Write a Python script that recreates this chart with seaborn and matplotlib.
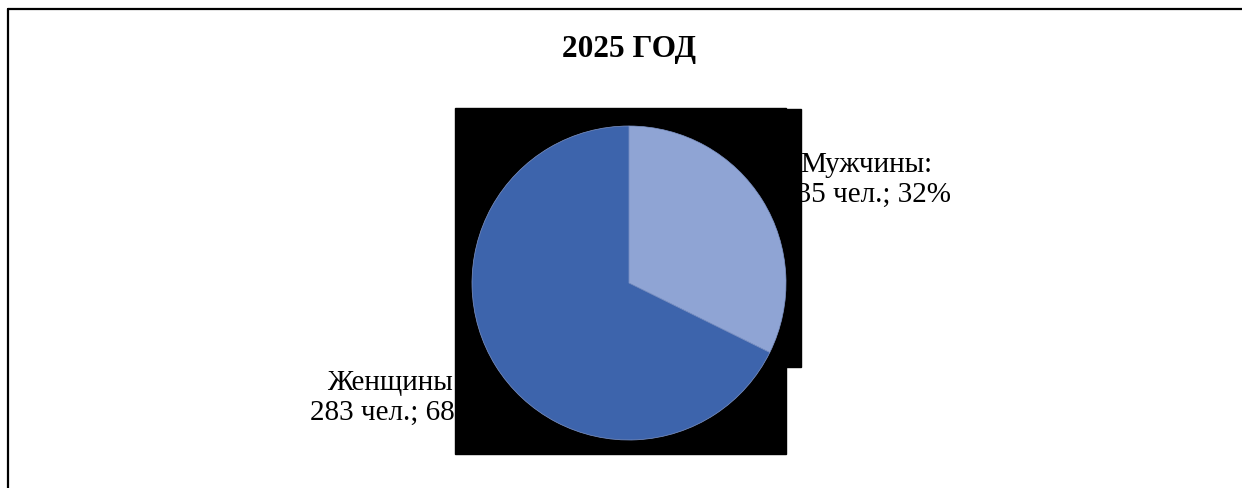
import seaborn as sns
import matplotlib.pyplot as plt
from matplotlib.patches import Rectangle

# data
categories = ['Мужчины', 'Женщины']
counts = [135, 283]
title = '2025 ГОД'
colors = ['#8FA4D4', '#3D64AC']

sns.set_theme(style="white")
plt.rcParams['font.family'] = ['Liberation Serif', 'DejaVu Serif']
plt.rcParams['text.color'] = 'black'

W, H = 1242, 489
fig = plt.figure(figsize=(W / 100, H / 100), dpi=100)
ax = fig.add_axes([0, 0, 1, 1])
ax.set_xlim(0, W)
ax.set_ylim(0, H)
ax.set_aspect('equal')
ax.axis('off')

# frame (top and left edges visible)
ax.plot([8, 8], [0, H - 10], color='black', lw=1.6, zorder=1)
ax.plot([8, W], [H - 10, H - 10], color='black', lw=1.6, zorder=1)

ax.text(629, H - 57, title, ha='center', va='baseline',
        fontsize=22.5, fontweight='bold', color='black', zorder=2)

total = sum(counts)
# baseline of the second line of each label
label_pos = [(866, H - 202), (394, H - 420)]
for cat, n, (lx, ly) in zip(categories, counts, label_pos):
    pct = round(n / total * 100)
    ax.text(lx, ly, f"{cat}:\n{n} чел.; {pct}%", ha='center', va='baseline',
            fontsize=21, linespacing=1.2, color='black', zorder=2)

# black plot area behind the pie (covers parts of labels)
ax.add_patch(Rectangle((455, H - 455), 331, 346, color='black', zorder=3))
ax.add_patch(Rectangle((786, H - 368), 15, 258, color='black', zorder=3))

wedges, _ = ax.pie(counts, colors=colors, startangle=90, counterclock=False,
                   center=(629, H - 284), radius=157, frame=True,
                   wedgeprops=dict(linewidth=0.5, edgecolor='#7F95C8'))
for w in wedges:
    w.set_zorder(4)
ax.set_xlim(0, W)
ax.set_ylim(0, H)
ax.axis('off')

fig.savefig('out.png', dpi=100)
